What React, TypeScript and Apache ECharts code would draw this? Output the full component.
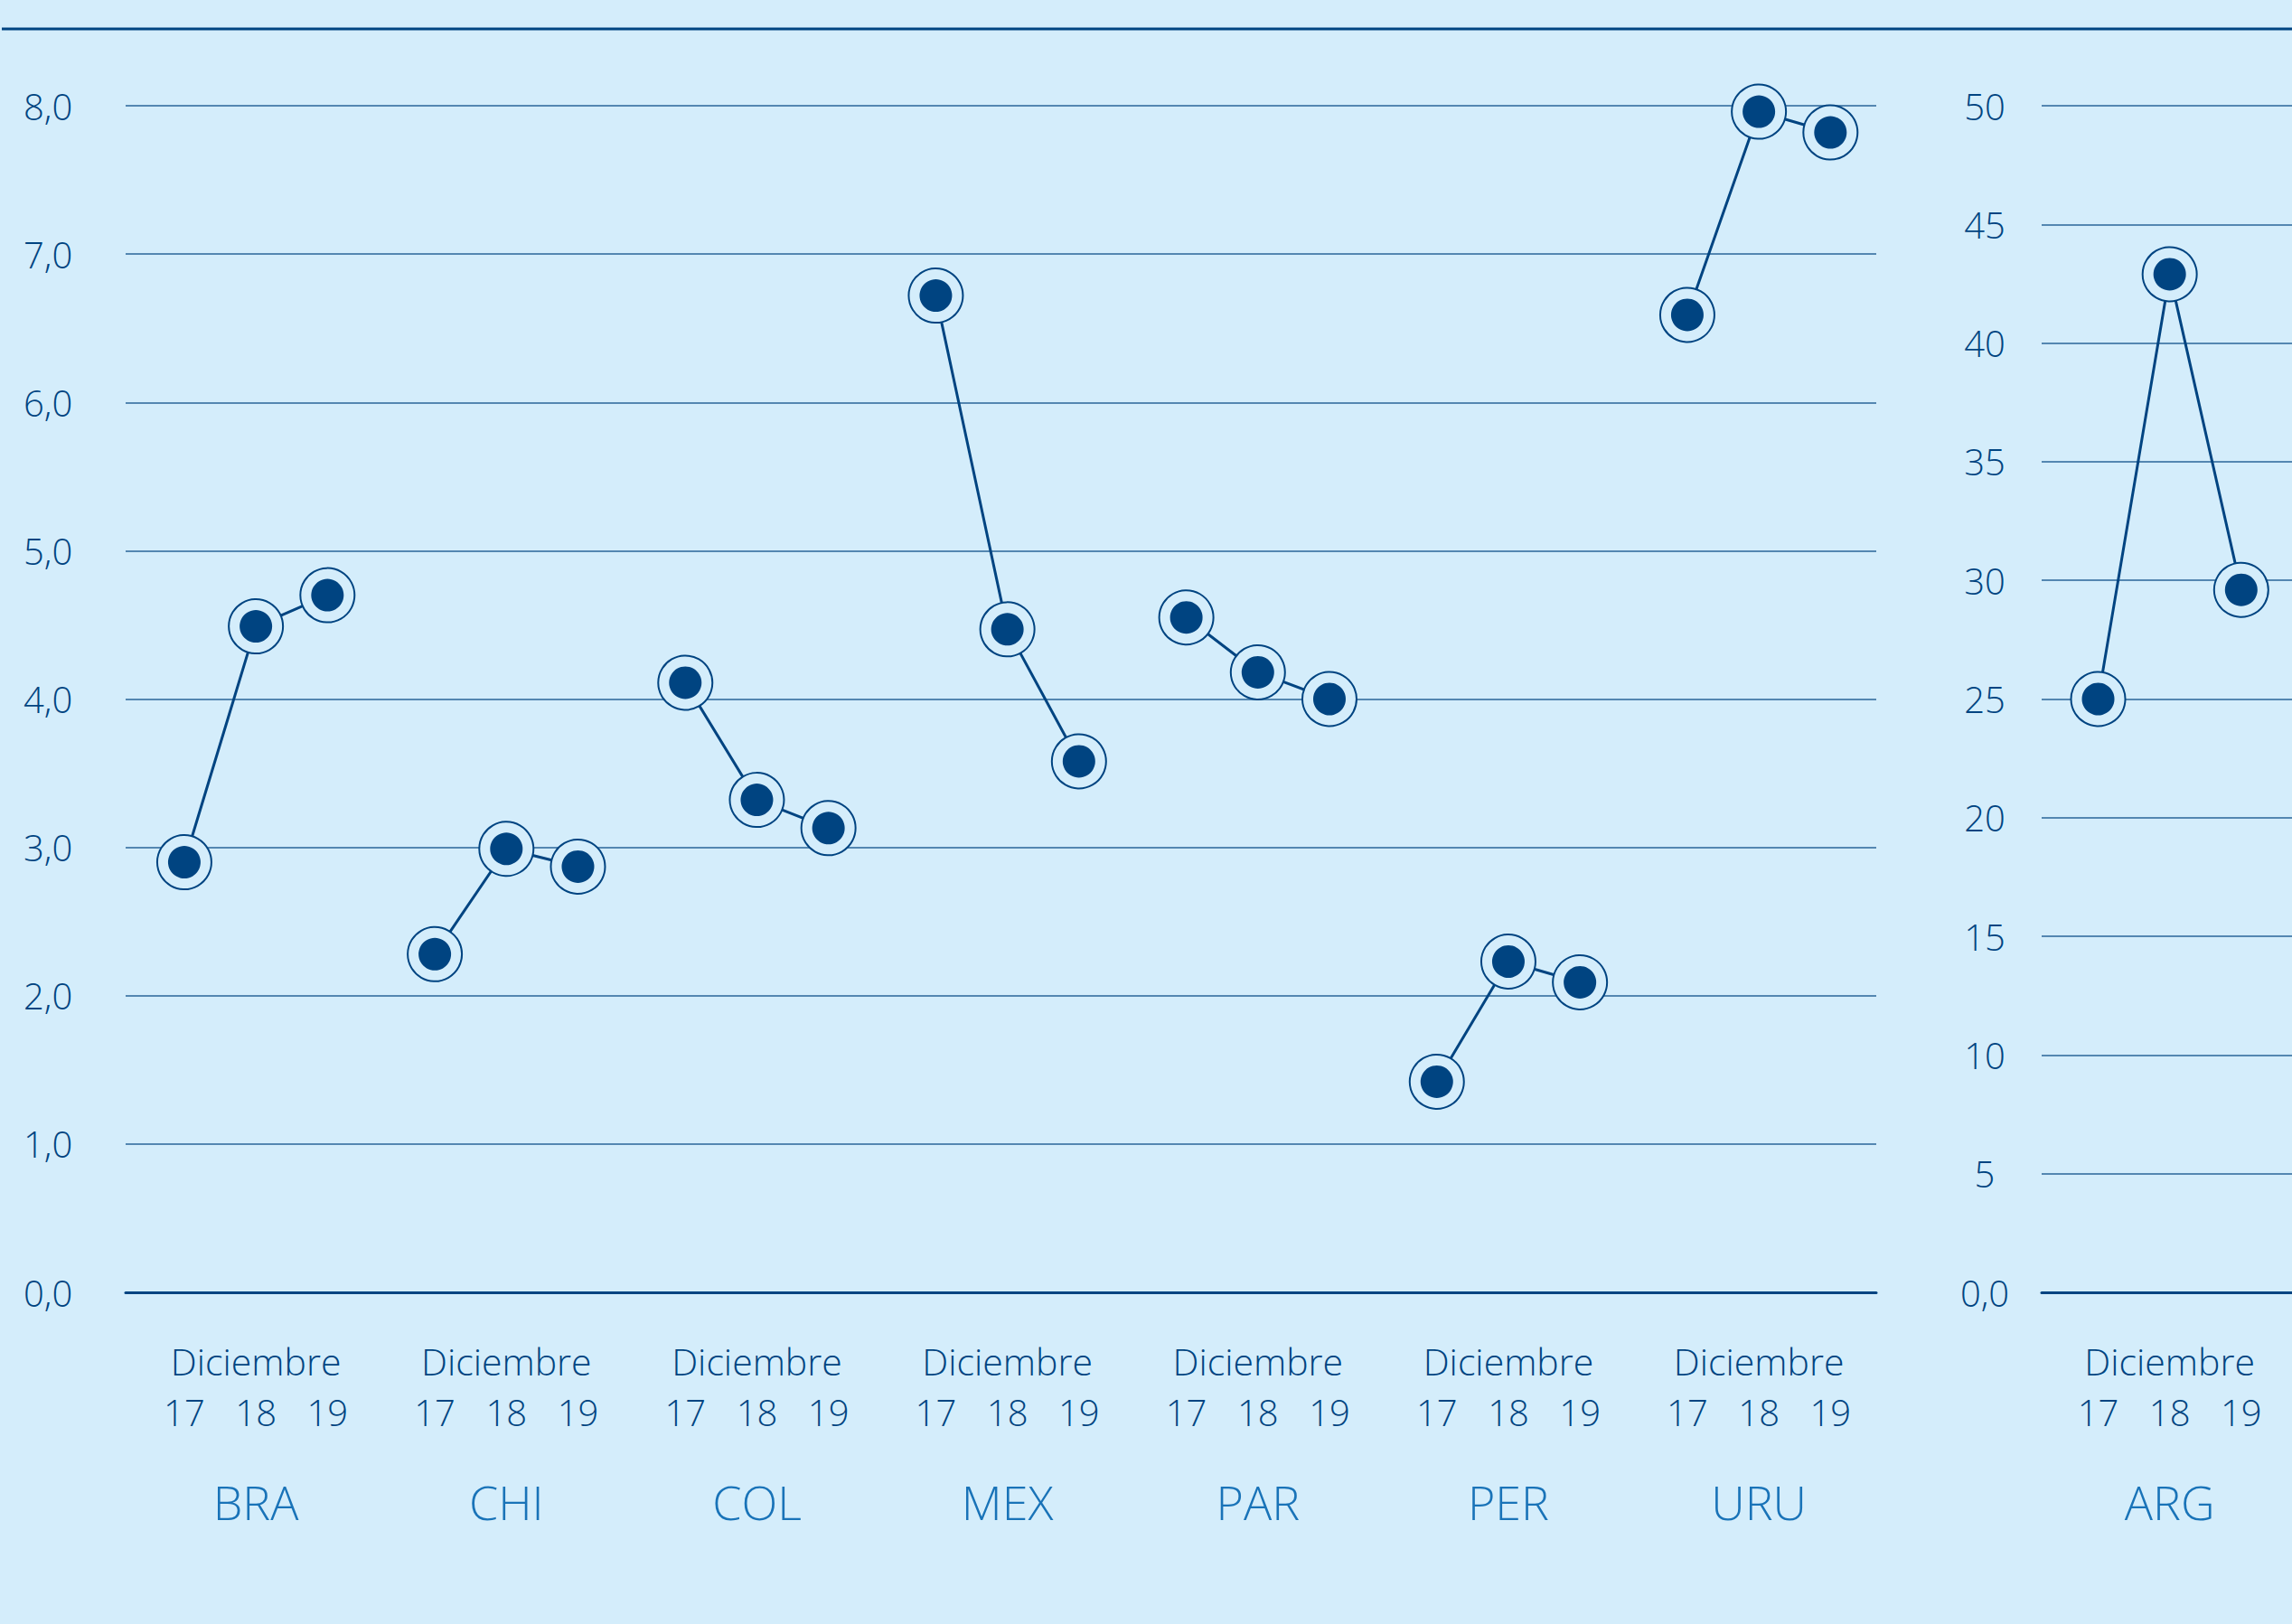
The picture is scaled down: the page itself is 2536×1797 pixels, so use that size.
import React, { useEffect, useRef } from 'react';
import * as echarts from 'echarts';

// ---- data ----
const countries = ['BRA', 'CHI', 'COL', 'MEX', 'PAR', 'PER', 'URU'];
const years = ['17', '18', '19'];
const periodLabel = 'Diciembre';
const braValues = [2.9, 4.49, 4.7];
const chiValues = [2.28, 2.99, 2.87];
const colValues = [4.11, 3.32, 3.13];
const mexValues = [6.72, 4.47, 3.58];
const parValues = [4.55, 4.18, 4.0];
const perValues = [1.42, 2.23, 2.09];
const uruValues = [6.59, 7.96, 7.82];
const leftValues = [braValues, chiValues, colValues, mexValues, parValues, perValues, uruValues];
const rightCountry = 'ARG';
const argValues = [25.0, 42.9, 29.6];
const leftAxisMax = 8;
const leftAxisStep = 1;
const rightAxisMax = 50;
const rightAxisStep = 5;

// ---- style ----
const DARK = '#004481';
const LIGHT = '#1973B8';
const BG = '#D4EDFB';
const GRIDC = '#2a6499';
const FONT = "'Open Sans', 'DejaVu Sans', sans-serif";
const GROUP_STEP = 3.5;

const pos = (g: number, i: number) => g * GROUP_STEP + i;
const key = (v: number) => Math.round(v * 10);

export default function App() {
  const ref = useRef<HTMLDivElement>(null);
  useEffect(() => {
    if (!ref.current) return;
    const chart = echarts.init(ref.current, null, { renderer: 'svg', width: 2536, height: 1797 });

    const yearPosL: number[] = [];
    const yearMap = new Map<number, string>();
    countries.forEach((_, g) =>
      years.forEach((y, i) => {
        const p = pos(g, i);
        yearPosL.push(p);
        yearMap.set(key(p), y);
      })
    );
    const centersL = countries.map((_, g) => pos(g, 1));
    const countryMap = new Map<number, string>(centersL.map((p, g) => [key(p), countries[g]]));
    const yearPosR = years.map((_, i) => pos(0, i));
    const centersR = [pos(0, 1)];

    const txt = (size: number, color: string) => ({
      fontSize: size,
      color,
      fontFamily: FONT,
      fontWeight: 350,
    });

    const baseX = (gridIndex: number, min: number, max: number) => ({
      type: 'value',
      gridIndex,
      min,
      max,
      position: 'bottom',
      splitLine: { show: false },
      axisTick: { show: false },
      axisLine: { show: false },
    });

    const xAxesFor = (gridIndex: number, min: number, max: number, yearPos: number[], centers: number[], countryOf: (v: number) => string) => [
      {
        ...baseX(gridIndex, min, max),
        axisLine: { show: true, onZero: false, lineStyle: { color: DARK, width: 3 } },
        axisLabel: {
          customValues: yearPos,
          formatter: (v: number) => yearMap.get(key(v)) || '',
          margin: 132,
          verticalAlign: 'middle',
          ...txt(40, DARK),
        },
      },
      {
        ...baseX(gridIndex, min, max),
        axisLabel: {
          customValues: centers,
          formatter: () => periodLabel,
          margin: 76,
          verticalAlign: 'middle',
          ...txt(41, DARK),
        },
      },
      {
        ...baseX(gridIndex, min, max),
        axisLabel: {
          customValues: centers,
          formatter: (v: number) => countryOf(v),
          margin: 231,
          verticalAlign: 'middle',
          ...txt(52, LIGHT),
        },
      },
    ];

    const xAxis = [
      ...xAxesFor(0, -0.82, 23.64, yearPosL, centersL, (v) => countryMap.get(key(v)) || ''),
      ...xAxesFor(1, -0.79, 2.71, yearPosR, centersR, () => rightCountry),
    ];

    const yAxis = [
      {
        type: 'value',
        gridIndex: 0,
        min: 0,
        max: leftAxisMax,
        interval: leftAxisStep,
        axisLine: { show: false },
        axisTick: { show: false },
        splitLine: { show: true, lineStyle: { color: GRIDC, width: 1.5 } },
        axisLabel: {
          formatter: (v: number) => v.toFixed(1).replace('.', ','),
          align: 'left',
          margin: 113,
          verticalAlign: 'middle',
          ...txt(40, DARK),
        },
      },
      {
        type: 'value',
        gridIndex: 1,
        min: 0,
        max: rightAxisMax,
        interval: rightAxisStep,
        axisLine: { show: false },
        axisTick: { show: false },
        splitLine: { show: true, lineStyle: { color: GRIDC, width: 1.5 } },
        axisLabel: {
          formatter: (v: number) => (v === 0 ? '0,0' : String(v)),
          align: 'center',
          margin: 63,
          verticalAlign: 'middle',
          ...txt(40, DARK),
        },
      },
    ];

    const ringSeries = (data: number[][], xi: number, yi: number) => ({
      type: 'line',
      xAxisIndex: xi,
      yAxisIndex: yi,
      data,
      symbol: 'circle',
      symbolSize: 60,
      showSymbol: true,
      itemStyle: { color: BG, borderColor: DARK, borderWidth: 2, opacity: 1 },
      lineStyle: { color: DARK, width: 3 },
      emphasis: { disabled: true },
      z: 2,
    });
    const dotSeries = (data: number[][], xi: number, yi: number) => ({
      type: 'scatter',
      xAxisIndex: xi,
      yAxisIndex: yi,
      data,
      symbol: 'circle',
      symbolSize: 36,
      itemStyle: { color: DARK, opacity: 1 },
      emphasis: { disabled: true },
      z: 3,
    });

    const leftData = leftValues.map((vals, g) => vals.map((v, i) => [pos(g, i), v]));
    const rightData = argValues.map((v, i) => [pos(0, i), v]);

    const series: any[] = [];
    leftData.forEach((d) => series.push(ringSeries(d, 0, 0)));
    series.push(dotSeries(leftData.flat(), 0, 0));
    series.push(ringSeries(rightData, 3, 1));
    series.push(dotSeries(rightData, 3, 1));

    chart.setOption({
      animation: false,
      backgroundColor: BG,
      grid: [
        { left: 139, top: 117, width: 1937, height: 1313 },
        { left: 2259, top: 117, width: 277, height: 1313 },
      ],
      xAxis,
      yAxis,
      series,
      graphic: [
        {
          type: 'line',
          shape: { x1: 2, y1: 32, x2: 2536, y2: 32 },
          style: { stroke: DARK, lineWidth: 3 },
          z: 10,
        },
      ],
    } as any);

    return () => chart.dispose();
  }, []);

  return (
    <div
      ref={ref}
      style={{ position: 'absolute', left: 0, top: 0, width: 2536, height: 1797 }}
    />
  );
}
